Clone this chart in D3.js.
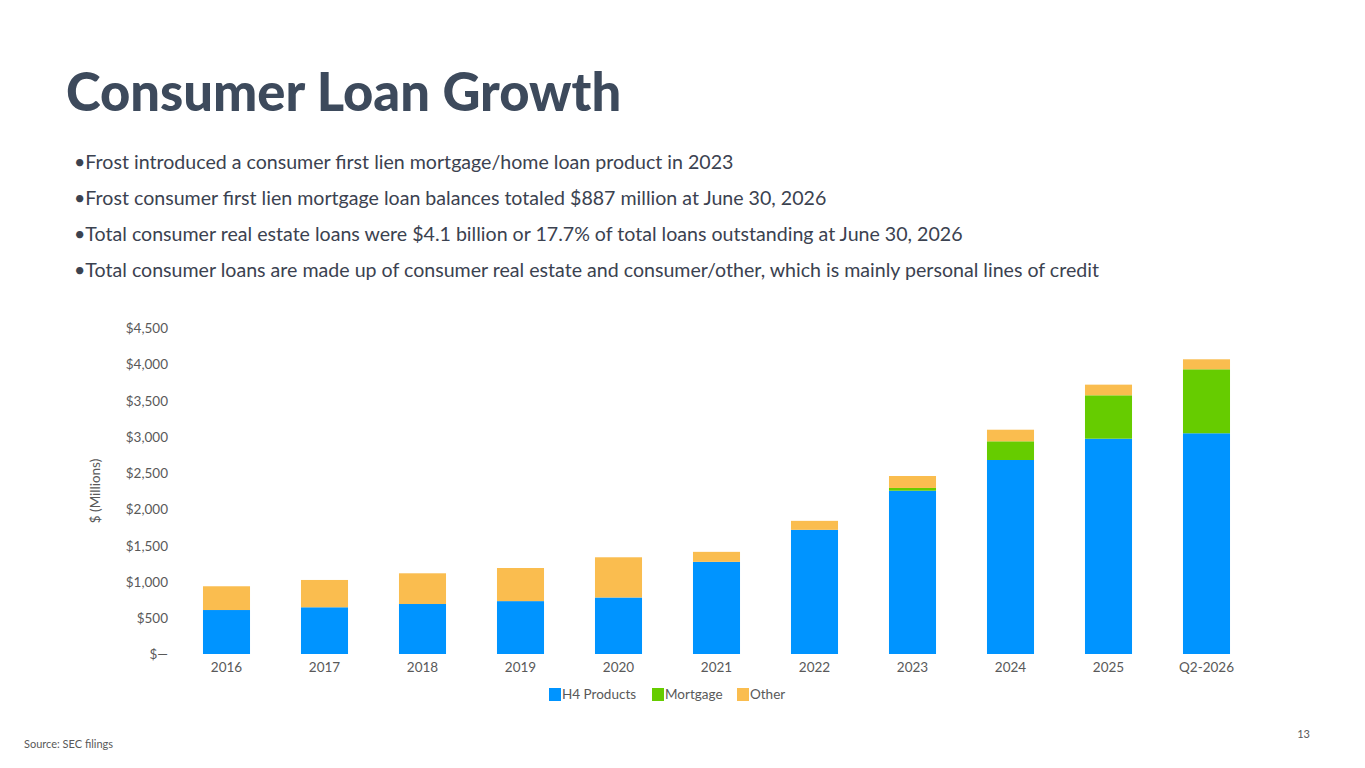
<!DOCTYPE html>
<html>
<head>
    <title>Consumer Loan Growth</title>
    <script src="https://cdnjs.cloudflare.com/ajax/libs/d3/7.8.5/d3.min.js"></script>
    <style>
        body { margin: 0; background: #FFFFFF; }
        svg { display: block; font-family: Lato, "Open Sans", sans-serif; }
        .title { font-size: 52.5px; font-weight: 900; fill: #3d4a5c; }
        .bullet { font-size: 19.6px; fill: #3b4250; }
        .tick text { font-size: 13.5px; fill: #595959; font-family: Lato, "Open Sans", sans-serif; }
        .axis-label { font-size: 13.5px; fill: #595959; }
        .legend text { font-size: 13.5px; fill: #595959; }
        .footer { font-size: 11px; fill: #595959; }
    </style>
</head>
<body>
    <div id="chart"></div>
    <script>
const categories = ['2016', '2017', '2018', '2019', '2020', '2021', '2022', '2023', '2024', '2025', 'Q2-2026'];
const h4Products = [607, 645, 690, 730, 780, 1272, 1714, 2254, 2678, 2972, 3047];
const mortgage = [0, 0, 0, 0, 0, 0, 0, 38, 258, 599, 883];
const other = [328, 377, 424, 457, 555, 138, 124, 165, 160, 147, 138];
const seriesNames = ['H4 Products', 'Mortgage', 'Other'];
const seriesColors = ['#0094ff', '#66cc00', '#fabd4f'];
const yTicks = [0, 500, 1000, 1500, 2000, 2500, 3000, 3500, 4000, 4500];
const bullets = [
    'Frost introduced a consumer first lien mortgage/home loan product in 2023',
    'Frost consumer first lien mortgage loan balances totaled $887 million at June 30, 2026',
    'Total consumer real estate loans were $4.1 billion or 17.7% of total loans outstanding at June 30, 2026',
    'Total consumer loans are made up of consumer real estate and consumer/other, which is mainly personal lines of credit'
];

    const width = 1365;
    const height = 768;

    const svg = d3.select('#chart')
        .append('svg')
        .attr('width', width)
        .attr('height', height);

    // Title and bullet text
    svg.append('text')
        .attr('class', 'title')
        .attr('x', 66)
        .attr('y', 111)
        .text('Consumer Loan Growth');

    svg.append('g')
        .selectAll('text')
        .data(bullets)
        .join('text')
        .attr('class', 'bullet')
        .attr('x', 74)
        .attr('y', (d, i) => 169 + i * 36)
        .text(d => '\u2022' + d);

    // Stack the series
    const table = categories.map((c, i) => ({
        cat: c,
        'H4 Products': h4Products[i],
        'Mortgage': mortgage[i],
        'Other': other[i]
    }));
    const stacked = d3.stack().keys(seriesNames)(table);

    const x = d3.scaleBand()
        .domain(categories)
        .range([177.5, 1255.5])
        .paddingInner(0.52)
        .paddingOuter(0.26);

    const y = d3.scaleLinear()
        .domain([0, 4500])
        .range([654, 328]);

    const color = d3.scaleOrdinal().domain(seriesNames).range(seriesColors);

    // Bars
    svg.append('g')
        .selectAll('g')
        .data(stacked)
        .join('g')
        .attr('fill', d => color(d.key))
        .selectAll('rect')
        .data(d => d)
        .join('rect')
        .attr('x', d => x(d.data.cat))
        .attr('y', d => y(d[1]))
        .attr('width', x.bandwidth())
        .attr('height', d => y(d[0]) - y(d[1]));

    // Y axis (labels only)
    const yAxis = svg.append('g')
        .attr('transform', 'translate(168,0)')
        .call(d3.axisLeft(y)
            .tickValues(yTicks)
            .tickSize(0)
            .tickPadding(0)
            .tickFormat(d => d === 0 ? '$\u2014' : d3.format('$,')(d)));
    yAxis.attr('font-family', null);
    yAxis.select('.domain').remove();
    yAxis.selectAll('text').attr('dy', '0.35em');

    // X axis (labels only)
    const xAxis = svg.append('g')
        .attr('transform', 'translate(0,654)')
        .call(d3.axisBottom(x).tickSize(0).tickPadding(8));
    xAxis.attr('font-family', null);
    xAxis.select('.domain').remove();

    svg.append('text')
        .attr('class', 'axis-label')
        .attr('transform', 'translate(100,491) rotate(-90)')
        .attr('text-anchor', 'middle')
        .text('$ (Millions)');

    // Legend
    const legendX = [549, 652, 737];
    const legend = svg.append('g')
        .attr('class', 'legend')
        .selectAll('g')
        .data(seriesNames)
        .join('g')
        .attr('transform', (d, i) => `translate(${legendX[i]},688)`);
    legend.append('rect')
        .attr('width', 12)
        .attr('height', 13)
        .attr('fill', d => color(d));
    legend.append('text')
        .attr('x', 13)
        .attr('y', 11)
        .text(d => d);

    // Footer
    svg.append('text')
        .attr('class', 'footer')
        .attr('x', 24)
        .attr('y', 748)
        .text('Source: SEC filings');

    svg.append('text')
        .attr('class', 'footer')
        .attr('x', 1310)
        .attr('y', 738)
        .attr('text-anchor', 'end')
        .text('13');
    </script>
</body>
</html>
